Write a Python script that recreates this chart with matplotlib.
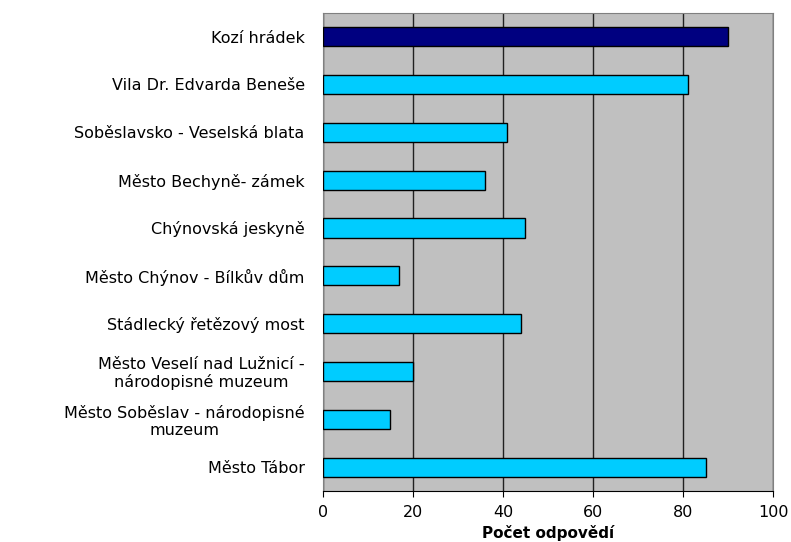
import matplotlib.pyplot as plt

plt.rcParams['font.family'] = ['DejaVu Sans']

# Survey answers per destination (top to bottom)
places = [
    'Kozí hrádek',
    'Vila Dr. Edvarda Beneše',
    'Soběslavsko - Veselská blata',
    'Město Bechyně- zámek',
    'Chýnovská jeskyně',
    'Město Chýnov - Bílkův dům',
    'Stádlecký řetězový most',
    'Město Veselí nad Lužnicí -\nnárodopisné muzeum',
    'Město Soběslav - národopisné\nmuzeum',
    'Město Tábor',
]
counts = [90, 81, 41, 36, 45, 17, 44, 20, 15, 85]
highlight = 'Kozí hrádek'

fig = plt.figure(figsize=(7.91, 5.42), dpi=100)
ax = fig.add_axes([0.408, 0.094, 0.5696, 0.8826])
ax.set_facecolor('#C0C0C0')

colors = ['#000080' if p == highlight else '#00CCFF' for p in places]
ypos = list(range(len(places)))
ax.barh(ypos, counts, height=0.4, color=colors, edgecolor='black',
        linewidth=1.0, zorder=3)

ax.set_xlim(0, 100)
ax.set_ylim(len(places) - 0.5, -0.5)
ax.set_xticks([0, 20, 40, 60, 80, 100])
ax.xaxis.grid(True, color='#202020', linewidth=1.0, zorder=1)
ax.set_axisbelow(True)

ax.set_yticks(ypos)
ax.set_yticklabels(places, fontsize=11.5, multialignment='center',
                   linespacing=1.15)
ax.tick_params(axis='y', length=0, pad=13)
ax.tick_params(axis='x', length=4, direction='out', labelsize=11.5, pad=6,
               color='black')

for side in ['top', 'right', 'left']:
    ax.spines[side].set_color('#808080')
ax.spines['bottom'].set_color('black')

ax.set_xlabel('Počet odpovědí', fontsize=11, fontweight='bold', labelpad=4)

fig.savefig('out.png', dpi=100)
